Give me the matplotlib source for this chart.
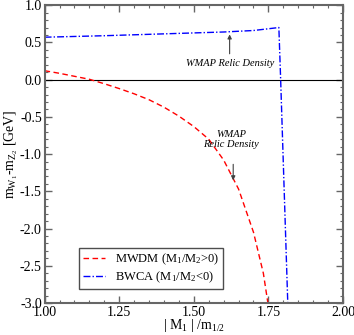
import numpy as np
import matplotlib
matplotlib.use("Agg")
import matplotlib.pyplot as plt
from matplotlib.ticker import MultipleLocator

plt.rcParams['font.family'] = ['Liberation Serif', 'DejaVu Serif']
plt.rcParams['mathtext.fontset'] = 'custom'
plt.rcParams['mathtext.rm'] = 'Liberation Serif'
plt.rcParams['mathtext.it'] = 'Liberation Serif:italic'

# MWDM branch (M1/M2 > 0)
mwdm_x = [1.00, 1.05, 1.10, 1.15, 1.20, 1.25, 1.30, 1.35, 1.40, 1.45,
          1.50, 1.55, 1.60, 1.65, 1.70, 1.733, 1.749]
mwdm_y = [0.12, 0.085, 0.045, 0.005, -0.055, -0.12, -0.19, -0.27, -0.37, -0.49,
          -0.63, -0.80, -1.08, -1.47, -2.05, -2.60, -3.02]

# BWCA branch (M1/M2 < 0)
bwca_x = [1.00, 1.20, 1.40, 1.60, 1.70, 1.785, 1.791, 1.815]
bwca_y = [0.57, 0.59, 0.615, 0.64, 0.66, 0.70, 0.0, -3.02]

fig = plt.figure(figsize=(3.54, 3.35), dpi=100)
ax = fig.add_axes([0.126, 0.0955, 0.843, 0.889])

ax.axhline(0.0, color='black', lw=0.8)
ax.plot(mwdm_x, mwdm_y, color='#ff0000', ls=(0, (4, 2.5)), lw=1.0,
        label=r'MWDM (M$_1$/M$_2$>0)')
ax.plot(bwca_x, bwca_y, color='#0000ff', ls=(0, (5, 1.5, 1, 1.5)), lw=1.0,
        label=r'BWCA (M$_1$/M$_2$<0)')

# annotations
arrow = dict(arrowstyle='-|>', color='0.25', lw=0.8, mutation_scale=6)
ax.annotate('', xy=(1.62, 0.645), xytext=(1.62, 0.31), arrowprops=arrow)
ax.text(1.62, 0.22, 'WMAP Relic Density', style='italic', fontsize=7.5,
        ha='center', va='center')
ax.annotate('', xy=(1.632, -1.39), xytext=(1.632, -1.10), arrowprops=arrow)
ax.text(1.625, -0.80, 'WMAP\nRelic Density', style='italic', fontsize=7.5,
        ha='center', va='center', linespacing=1.2)

ax.set_xlim(1.0, 2.0)
ax.set_ylim(-3.0, 1.0)
ax.xaxis.set_major_locator(MultipleLocator(0.25))
ax.xaxis.set_minor_locator(MultipleLocator(0.05))
ax.yaxis.set_major_locator(MultipleLocator(0.5))
ax.yaxis.set_minor_locator(MultipleLocator(0.1))
ax.xaxis.set_major_formatter(plt.FormatStrFormatter('%.2f'))
ax.yaxis.set_major_formatter(plt.FormatStrFormatter('%.1f'))
ax.tick_params(which='both', direction='in', top=True, right=True,
               color='0.4', labelsize=10, pad=2)
ax.tick_params(which='major', length=5, width=1.0)
ax.tick_params(which='minor', length=2.5, width=0.8)
for sp in ax.spines.values():
    sp.set_color('0.4')
    sp.set_linewidth(1.5)

ax.set_xlabel(r'| M$_1$ | /m$_{1/2}$', fontsize=10, labelpad=-1)
ax.set_ylabel(r'm$_{\mathrm{W}_1}$-m$_{\mathrm{Z}_2}$ [GeV]', fontsize=10, labelpad=0)

leg = ax.legend(loc='lower left', bbox_to_anchor=(0.116, 0.047), borderaxespad=0,
                fontsize=9, fancybox=False, framealpha=1, handlelength=1.8,
                handletextpad=0.75, borderpad=0.3, labelspacing=0.2)
leg.get_frame().set_edgecolor('0.3')
leg.get_frame().set_linewidth(1.0)

fig.savefig('out.png', dpi=100)
